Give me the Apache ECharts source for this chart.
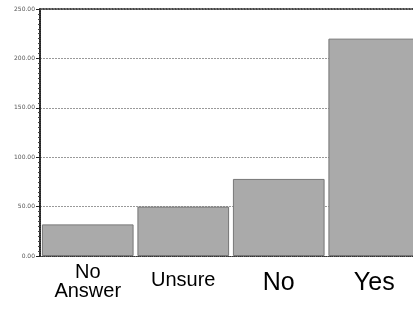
<!DOCTYPE html>
<html>
<head>
<meta charset="utf-8">
<script src="https://cdn.jsdelivr.net/npm/echarts@6/dist/echarts.min.js"></script>
<style>
  html, body { margin: 0; padding: 0; background: #fff; }
  #chart { width: 413px; height: 316px; }
</style>
</head>
<body>
<div id="chart"></div>
<script>
const categories = ['No Answer', 'Unsure', 'No', 'Yes']
const counts = [32, 50, 78, 220]
const labelStyleKeys = ['a', 'b', 'c', 'd']

let chart = echarts.init(document.getElementById('chart'))

let option = {
  backgroundColor: '#fff',
  animation: false,
  // plot runs past the right edge of the window, as in the original
  grid: { left: 40, width: 382, top: 9, height: 247, outerBoundsMode: 'none', containLabel: false },
  xAxis: [{
    type: 'category',
    data: categories,
    axisLine: { lineStyle: { color: '#333', type: [1, 1], width: 1 } },
    axisTick: { show: false },
    axisLabel: {
      margin: 7,
      interval: 0,
      formatter: (v, i) => {
        let key = labelStyleKeys[i]
        let txt = v === 'No Answer' ? 'No\nAnswer' : v
        return '{' + key + '|' + txt + '}'
      },
      rich: {
        a: { fontFamily: 'Liberation Sans', fontSize: 20, color: '#000', lineHeight: 19 },
        b: { fontFamily: 'Liberation Sans', fontSize: 20, color: '#000', lineHeight: 35 },
        c: { fontFamily: 'Liberation Sans', fontSize: 25, color: '#000', lineHeight: 41 },
        d: { fontFamily: 'Liberation Sans', fontSize: 25, color: '#000', lineHeight: 41 }
      }
    }
  }, {
    type: 'category',
    position: 'top',
    data: categories,
    axisLine: { lineStyle: { color: '#444', type: [1, 2], width: 2 } },
    axisTick: { show: false },
    axisLabel: { show: false }
  }],
  yAxis: {
    type: 'value',
    min: 0,
    max: 250,
    interval: 50,
    axisLine: { show: true, lineStyle: { color: '#222', type: [1, 1], width: 2 } },
    axisTick: { show: true, length: 4, lineStyle: { color: '#222' } },
    minorTick: { show: true, splitNumber: 10, length: 2, lineStyle: { color: '#444' } },
    axisLabel: {
      fontFamily: 'DejaVu Sans',
      fontSize: 6,
      color: '#555',
      margin: 5,
      formatter: v => v.toFixed(2)
    },
    splitLine: { show: true, lineStyle: { color: '#999', type: [2, 1], width: 1 } }
  },
  series: [{
    type: 'bar',
    data: counts,
    barCategoryGap: '4%',
    itemStyle: {
      color: '#aaaaaa',
      borderColor: '#777',
      borderWidth: 1
    }
  }]
}

chart.setOption(option)
</script>
</body>
</html>
